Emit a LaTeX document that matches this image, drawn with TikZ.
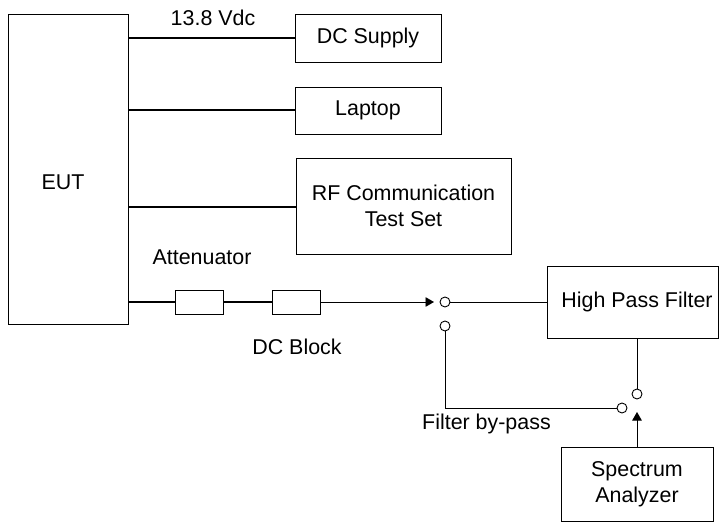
\documentclass[tikz,border=0pt]{standalone}
\usepackage{fontspec}
\setmainfont{Liberation Sans}
\usetikzlibrary{arrows.meta}
\begin{document}
\begin{tikzpicture}[x=1bp,y=-1bp,
  box/.style={draw,line width=0.9bp,inner sep=0pt,align=center,font=\fontsize{21.5}{26}\selectfont},
  lbl/.style={inner sep=0pt,font=\fontsize{21.5}{26}\selectfont},
  thickwire/.style={line width=2bp},
  thinwire/.style={line width=0.9bp},
  sw/.style={draw,circle,line width=0.9bp,minimum size=10bp,inner sep=0pt},
  tip/.style={-{Triangle[length=8.5bp,width=9.5bp]}}]
\useasboundingbox (0,0) rectangle (720,531);
\node[box,minimum width=120bp,minimum height=310bp] (eut) at (68,169) {};
\node[lbl] (eutl) at (63,182) {EUT};
\node[box,minimum width=146bp,minimum height=48bp] (dc) at (368,38) {DC Supply};
\node[box,minimum width=146bp,minimum height=47bp] (lap) at (368,110.5) {Laptop};
\node[box,minimum width=215bp,minimum height=96bp] (rf) at (403.5,206) {RF Communication\\Test Set};
\node[box,minimum width=48bp,minimum height=24bp] (att) at (199,302) {};
\node[box,minimum width=48bp,minimum height=24bp] (dcb) at (296,302) {};
\node[box,minimum width=171bp,minimum height=72bp] (hpf) at (632.5,302) {\hspace*{9bp}High Pass Filter};
\node[box,minimum width=152bp,minimum height=74bp] (sa) at (637,484) {Spectrum\\Analyzer};
\node[lbl] (vdc) at (213,18) {13.8 Vdc};
\node[lbl] (attl) at (202,257) {Attenuator};
\node[lbl] (dcbl) at (297,347) {DC Block};
\node[lbl,anchor=west] (byp) at (422,424) {Filter by-pass};
\node[sw] (s1) at (445,302) {};
\node[sw] (s2) at (445,326) {};
\node[sw] (s3) at (637,394) {};
\node[sw] (s4) at (622,408) {};
\coordinate (a1) at (434,302);
\coordinate (a2) at (637,412);
\draw[thickwire] (eut.east |- dc.west) -- (dc.west);
\draw[thickwire] (eut.east |- 0,110) -- (lap.west |- 0,110);
\draw[thickwire] (eut.east |- 0,207) -- (rf.west |- 0,207);
\draw[thickwire] (eut.east |- att.west) -- (att.west);
\draw[thickwire] (att.east) -- (dcb.west);
\draw[thinwire,tip] (dcb.east) -- (a1);
\draw[thinwire] (s1.east) -- (hpf.west);
\draw[thinwire] (s2.south) |- (s4.west);
\draw[thinwire] (hpf.south -| s3) -- (s3.north);
\draw[thinwire,tip] (sa.north) -- (a2);
\end{tikzpicture}
\end{document}
